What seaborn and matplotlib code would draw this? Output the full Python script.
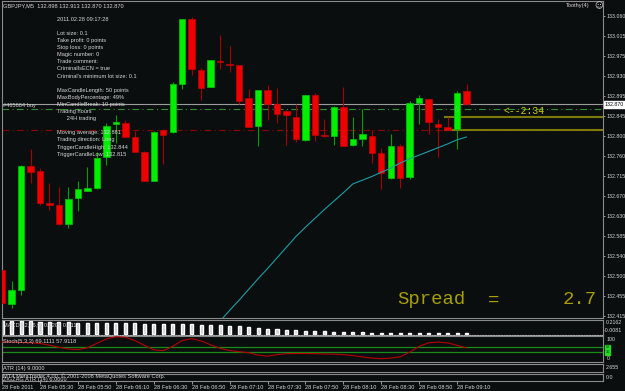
import numpy as np
import pandas as pd
import matplotlib
matplotlib.use("Agg")
import matplotlib.pyplot as plt
import seaborn as sns
from matplotlib.transforms import blended_transform_factory as btf

sns.set_theme(style="dark")
plt.rcParams['font.family'] = ['Liberation Sans', 'DejaVu Sans']

# ---------------- data ----------------
opens = [132.514, 132.441, 132.471, 132.738, 132.727, 132.657, 132.654, 132.613, 132.669, 132.684,
         132.690, 132.757, 132.828, 132.830, 132.800, 132.768, 132.705, 132.815, 132.811, 132.914,
         133.054, 132.944, 132.907, 132.964, 132.957, 132.955, 132.884, 132.824, 132.901, 132.871,
         132.856, 132.843, 132.794, 132.890, 132.805, 132.802, 132.864, 132.783, 132.796, 132.802,
         132.766, 132.712, 132.781, 132.714, 132.873, 132.882, 132.828, 132.821, 132.817, 132.898]
highs = [132.518, 132.490, 132.740, 132.774, 132.733, 132.701, 132.692, 132.692, 132.705, 132.735,
         132.768, 132.830, 132.847, 132.836, 132.813, 132.770, 132.813, 132.817, 132.918, 133.054,
         133.058, 132.948, 132.966, 133.019, 132.996, 132.955, 132.903, 132.901, 132.912, 132.905,
         132.858, 132.871, 132.890, 132.895, 132.839, 132.867, 132.907, 132.843, 132.860, 132.815,
         132.776, 132.806, 132.785, 132.877, 132.890, 132.882, 132.839, 132.843, 132.899, 132.913]
lows = [132.432, 132.432, 132.460, 132.701, 132.654, 132.643, 132.611, 132.604, 132.641, 132.684,
        132.688, 132.740, 132.787, 132.799, 132.768, 132.705, 132.705, 132.742, 132.809, 132.903,
        132.933, 132.880, 132.907, 132.946, 132.940, 132.871, 132.821, 132.781, 132.836, 132.830,
        132.783, 132.789, 132.791, 132.791, 132.800, 132.783, 132.781, 132.781, 132.781, 132.744,
        132.688, 132.710, 132.690, 132.710, 132.828, 132.806, 132.757, 132.815, 132.774, 132.870]
closes = [132.443, 132.471, 132.738, 132.725, 132.658, 132.653, 132.613, 132.667, 132.688, 132.690,
          132.755, 132.824, 132.832, 132.800, 132.768, 132.705, 132.811, 132.804, 132.914, 133.053,
          132.946, 132.905, 132.966, 132.961, 132.954, 132.877, 132.821, 132.901, 132.871, 132.849,
          132.847, 132.796, 132.890, 132.804, 132.802, 132.864, 132.781, 132.796, 132.806, 132.766,
          132.723, 132.781, 132.712, 132.873, 132.884, 132.832, 132.821, 132.815, 132.895, 132.870]

ma_start = 22
ma_values = [132.381, 132.404, 132.427, 132.449, 132.472, 132.495, 132.517, 132.540, 132.563, 132.586,
             132.606, 132.625, 132.644, 132.662, 132.680, 132.699, 132.707, 132.715, 132.724, 132.733,
             132.744, 132.753, 132.761, 132.769, 132.777, 132.785, 132.794, 132.800]

macd_hist = [0.190, 0.189, 0.188, 0.187, 0.186, 0.184, 0.181, 0.176, 0.171, 0.168,
             0.166, 0.165, 0.163, 0.161, 0.158, 0.156, 0.154, 0.152, 0.150, 0.147,
             0.143, 0.139, 0.134, 0.128, 0.120, 0.112, 0.102, 0.093, 0.080, 0.068,
             0.060, 0.054, 0.049, 0.045, 0.042, 0.036, 0.030, 0.026, 0.023, 0.020,
             0.018, 0.016, 0.015, 0.014, 0.014, 0.013, 0.013, 0.012, 0.012, 0.012]

stoch_main = [78.5, 77.7, 76.5, 74.4, 72.4, 64.3, 56.1, 49.2, 46.7, 54.1,
              72.4, 90.7, 100.0, 97.7, 84.6, 64.3, 45.9, 41.9, 60.2, 84.6,
              91.6, 82.6, 66.3, 52.0, 42.7, 37.8, 33.7, 23.5, 19.4, 25.6,
              29.6, 30.4, 30.4, 29.6, 28.4, 27.6, 25.6, 21.5, 16.2, 11.3,
              8.5, 11.3, 16.6, 35.7, 60.2, 74.4, 77.7, 74.4, 64.3, 53.3]
stoch_levels = [57, 35]

bid_price = 132.870
order_price = 132.860
stop_line = 132.815
trigger_high = 132.844
trigger_low = 132.815
trigger_bar = 47
order_bar = 48

price_labels = ["132.415", "132.455", "132.500", "132.540", "132.585", "132.630", "132.670", "132.715",
                "132.760", "132.800", "132.845", "132.895", "132.930", "132.975", "133.015", "133.060"]
time_label_bars = [0, 4, 8, 12, 16, 20, 24, 28, 32, 36, 40, 44, 48]
time_labels = ["28 Feb 2011", "28 Feb 05:30", "28 Feb 05:50", "28 Feb 06:10", "28 Feb 06:30",
               "28 Feb 06:50", "28 Feb 07:10", "28 Feb 07:30", "28 Feb 07:50", "28 Feb 08:10",
               "28 Feb 08:30", "28 Feb 08:50", "28 Feb 09:10"]

title = "GBPJPY,M5  132.898 132.913 132.870 132.870"
info_lines = ["2011.02.28 09:17:28", "", "Lot size: 0.1", "Take profit: 0 points", "Stop loss: 0 points",
              "Magic number: 0", "Trade comment:", "CriminalIsECN = true",
              "Criminal's minimum lot size: 0.1", "", "MaxCandleLength: 50 points",
              "MaxBodyPercentage: 49%", "MinCandleBreak: 10 points", "Trading hours",
              "      24H trading", "", "Moving average: 132.881", "Trading direction: Long",
              "TriggerCandleHigh: 132.844", "TriggerCandleLow: 132.815"]

# ---------------- layout ----------------
W, H = 625, 391
BG = '#0b0e0e'
GRAY = '#8a8a8a'
TXT = '#d8d8d8'
XL = (-0.01, 63.39)
AX_FS = 3.75

fig = plt.figure(figsize=(W / 100, H / 100), dpi=100, facecolor=BG)


def rect(x0, y0, x1, y1):
    return [x0 / W, 1 - y1 / H, (x1 - x0) / W, (y1 - y0) / H]


def ftext(x, y, s, **kw):
    kw.setdefault('color', TXT)
    kw.setdefault('fontsize', 4.1)
    kw.setdefault('va', 'center')
    kw.setdefault('ha', 'left')
    return fig.text(x / W, 1 - y / H, s, **kw)


def style(ax):
    ax.set_facecolor(BG)
    for sp in ax.spines.values():
        sp.set_color(GRAY)
        sp.set_linewidth(0.8)
    ax.set_xlim(*XL)
    ax.grid(False)
    ax.set_xticks([])
    ax.set_yticks([])
    ax.set_xlabel('')
    ax.set_ylabel('')


ax = fig.add_axes(rect(2, 1, 603, 318))
style(ax)
ax.set_ylim(132.4107, 133.0924)

idx = np.arange(len(opens))
o = np.array(opens); c = np.array(closes); hi = np.array(highs); lo = np.array(lows)
bull = c >= o
body_col = np.where(bull, '#00ee00', '#ee0000')
wick_col = np.where(bull, '#00a000', '#a80000')
ax.vlines(idx, lo, hi, colors=wick_col, linewidth=0.8, zorder=2)
ax.bar(idx, np.maximum(np.abs(c - o), 0.0022), bottom=np.minimum(o, c), width=0.68,
       color=body_col, edgecolor=np.where(bull, '#00c400', '#c00000'), linewidth=0.5, zorder=3)

ma_df = pd.DataFrame({'bar': np.arange(ma_start, ma_start + len(ma_values)), 'ma': ma_values})
sns.lineplot(data=ma_df, x='bar', y='ma', ax=ax, color='#1c9ea6', linewidth=0.8, zorder=4)
ax.set_xlim(*XL); ax.set_ylim(132.4107, 133.0924)
ax.set_xlabel(''); ax.set_ylabel('')

ax.axhline(bid_price, color='#9c9c9c', linewidth=0.8, zorder=1)
ax.axhline(order_price, color='#2f8f2f', linewidth=0.8, linestyle=(0, (6, 3, 1, 3)), zorder=1)
ax.axhline(stop_line, color='#8e0000', linewidth=0.8, linestyle=(0, (6, 3, 1, 3)), zorder=1)
ax.hlines([trigger_high, trigger_low], trigger_bar - 0.34, XL[1], color='#7d7a08', linewidth=1.5, zorder=1)
ax.scatter([order_bar], [order_price], s=9, facecolors='none', edgecolors='#b0b0b0',
           linewidths=0.6, linestyle=':', zorder=5)

# right price axis
ax.yaxis.tick_right()
ax.set_yticks(np.linspace(132.415, 133.060, len(price_labels)))
ax.set_yticklabels(price_labels)
ax.tick_params(axis='y', right=True, length=1.6, width=0.6, color='#b0b0b0', labelsize=AX_FS,
               labelcolor=TXT, pad=0.9)
ax.text(1.003, bid_price, "132.870", transform=btf(ax.transAxes, ax.transData), fontsize=AX_FS,
        color='black', va='center', ha='left',
        bbox=dict(boxstyle='square,pad=0.15', facecolor='white', edgecolor='white'))

# texts in main chart
ftext(3, 6, title)
for k, line in enumerate(info_lines):
    if line:
        ftext(57, 19.3 + 7.1 * k, line)
ftext(3, 105, "#465664 buy")
ftext(504, 111, "<--2:34", color='#d2cc10', fontsize=7, family='Liberation Mono')
ftext(397, 300, "Spread", color='#a8a000', fontsize=13.6, family='Liberation Mono')
ftext(488, 300, "=", color='#a8a000', fontsize=13.6, family='Liberation Mono')
ftext(563, 300, "2.7", color='#a8a000', fontsize=13.6, family='Liberation Mono')
ftext(566, 6, "Toothy(4)", fontsize=4.1)
ftext(594, 6, "\u263a", fontsize=6, family='DejaVu Sans')

# MACD panel
axm = fig.add_axes(rect(2, 319.5, 603, 334.5))
style(axm)
axm.bar(idx, macd_hist, width=0.32, color='#d0d0d0', zorder=2)
axm.set_ylim(-0.0081, 0.2162)
axm.spines['bottom'].set_linestyle((0, (1.2, 1.2)))
axm.spines['bottom'].set_color('#b0b0b0')
ftext(3, 325, "MACD(12,26,9) 0.0205 0.0113")
ftext(606, 323, "0.2162", fontsize=AX_FS)
ftext(604, 330, "-0.0081", fontsize=AX_FS)

# Stochastic panel
axs = fig.add_axes(rect(2, 335.5, 603, 362))
style(axs)
axs.set_ylim(-5, 105)
for lv in stoch_levels:
    axs.axhline(lv, color='#1a8a1a', linewidth=0.9, zorder=1)
st_df = pd.DataFrame({'bar': idx, 'stoch': stoch_main})
sns.lineplot(data=st_df, x='bar', y='stoch', ax=axs, color='#b80000', linewidth=0.8, zorder=3)
axs.set_xlim(*XL); axs.set_ylim(-5, 105)
axs.set_xticks([]); axs.set_yticks([]); axs.set_xlabel(''); axs.set_ylabel('')
ftext(3, 341.7, "Stoch(5,3,3) 69.1111 57.9118")
ftext(607, 339.5, "100", fontsize=AX_FS)
ftext(607, 358, "0", fontsize=AX_FS)
for lv in stoch_levels:
    axs.text(1.004, lv, str(lv), transform=btf(axs.transAxes, axs.transData), fontsize=3.0,
             color='#003000', va='center', ha='left',
             bbox=dict(boxstyle='square,pad=0.1', facecolor='#22dd22', edgecolor='#22dd22'))

# ATR panel
axa = fig.add_axes(rect(2, 363.5, 603, 372))
style(axa)
ftext(3, 368.5, "ATR (14) 9.0000")
ftext(606, 367.3, "2.655", fontsize=AX_FS)

# last panel with time axis
axz = fig.add_axes(rect(2, 373.5, 603, 381))
style(axz)
ftext(3, 376, "MT4 MetaTrader 4.00, \u00a9 2001-2008 MetaQuotes Software Corp.")
ftext(3, 379.5, "ZIGZAG ATR (14) 6.0000")
ftext(606, 377.3, "0.0", fontsize=AX_FS)
axz.set_xticks(time_label_bars)
axz.set_xticklabels(time_labels)
axz.tick_params(axis='x', bottom=True, length=2, width=0.6, color='#b0b0b0', labelsize=4.1,
                labelcolor=TXT, pad=1)
for lbl in axz.get_xticklabels():
    lbl.set_ha('left')

fig.savefig('out.png', dpi=100, facecolor=BG)
